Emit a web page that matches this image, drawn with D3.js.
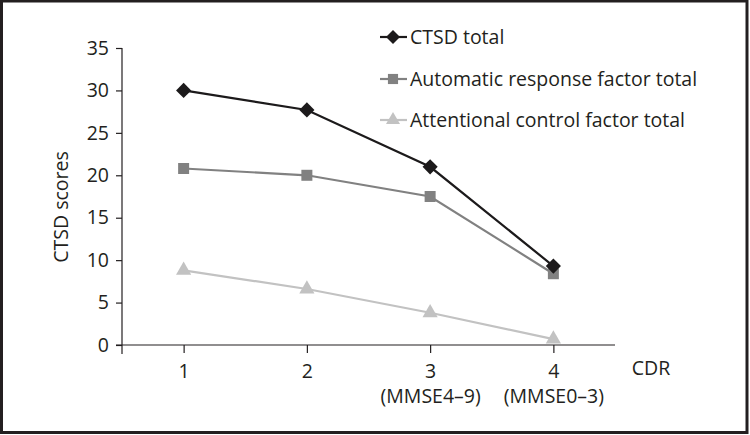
<!DOCTYPE html>
<html><head><meta charset="utf-8">
<script src="https://cdn.jsdelivr.net/npm/d3@7"></script>
<style>
html,body{margin:0;padding:0;background:#fff;}
svg text{font-family:"Open Sans","Noto Sans",sans-serif;fill:#231f20;}
</style></head>
<body>
<svg id="c" width="750" height="435"></svg>
<script>
const categories = [1, 2, 3, 4];
const tickLabels = ["1", "2", "3", "4"];
const subLabels = ["", "", "(MMSE4–9)", "(MMSE0–3)"];
const yTicks = [0, 5, 10, 15, 20, 25, 30, 35];
const seriesNames = ["CTSD total", "Automatic response factor total", "Attentional control factor total"];
const ctsdTotal = [30.0, 27.7, 21.0, 9.3];
const automaticTotal = [20.8, 20.0, 17.5, 8.4];
const attentionalTotal = [8.8, 6.6, 3.8, 0.7];

const FS = 19.5;
const svg = d3.select("#c");
// frame
svg.append("rect").attr("x",1.5).attr("y",1).attr("width",745.5).attr("height",431.5)
  .attr("fill","none").attr("stroke","#231f20").attr("stroke-width",3);

const x = d3.scaleLinear().domain([0.5, 4.5]).range([122, 615]);
const y = d3.scaleLinear().domain([0, 35]).range([345, 48]);

const diamond = {draw(ctx, size){ const r = Math.sqrt(size/2); ctx.moveTo(0,-r); ctx.lineTo(r,0); ctx.lineTo(0,r); ctx.lineTo(-r,0); ctx.closePath(); }};

const series = [
  {name: seriesNames[0], values: ctsdTotal, color: "#1c1a1b", sym: diamond, size: 115},
  {name: seriesNames[1], values: automaticTotal, color: "#818181", sym: d3.symbolSquare, size: 121},
  {name: seriesNames[2], values: attentionalTotal, color: "#c2c2c2", sym: d3.symbolTriangle, size: 100}
];

// y axis
const yAxis = d3.axisLeft(y).tickValues(yTicks).tickSize(6).tickPadding(7);
const gy = svg.append("g").attr("transform","translate(122,0)").call(yAxis);
gy.select(".domain").remove();
gy.selectAll("line").attr("stroke","#231f20").attr("stroke-width",1.2);
gy.selectAll("text").attr("font-size",FS).style("fill","#231f20");
svg.append("line").attr("x1",122).attr("x2",122).attr("y1",y(35)).attr("y2",354)
  .attr("stroke","#231f20").attr("stroke-width",1.2);

// x axis
const xAxis = d3.axisBottom(x).tickValues(categories).tickSize(8).tickPadding(11)
  .tickFormat((d,i)=>tickLabels[i]);
const gx = svg.append("g").attr("transform","translate(0,345)").call(xAxis);
gx.select(".domain").remove();
gx.selectAll("line").attr("stroke","#231f20").attr("stroke-width",1.2);
gx.selectAll("text").attr("font-size",FS).style("fill","#231f20");
// second line of tick labels as tspans within the same text
gx.selectAll(".tick text").each(function(d,i){
  const t = d3.select(this);
  if (subLabels[i]) {
    t.text(null);
    t.append("tspan").attr("x",0).text(tickLabels[i]);
    t.append("tspan").attr("x",0).attr("dy","1.28em").text(subLabels[i]);
  }
});
svg.append("line").attr("x1",116).attr("x2",615).attr("y1",345).attr("y2",345)
  .attr("stroke","#231f20").attr("stroke-width",1.2);

// CDR label
svg.append("text").attr("x",651).attr("y",375).attr("text-anchor","middle")
  .attr("font-size",FS).text("CDR");

// y title
svg.append("text").attr("transform","translate(68,207) rotate(-90)")
  .attr("text-anchor","middle").attr("font-size",FS).text("CTSD scores");

// lines
const line = d3.line().x((d,i)=>x(categories[i])).y(d=>y(d));
series.slice().reverse().forEach(s=>{
  svg.append("path").datum(s.values).attr("d",line).attr("fill","none")
    .attr("stroke",s.color).attr("stroke-width",2.2);
});
series.slice().reverse().forEach(s=>{
  svg.selectAll(null).data(s.values).enter().append("path")
    .attr("d",d3.symbol().type(s.sym).size(s.size))
    .attr("transform",(d,i)=>`translate(${x(categories[i])},${y(d)})`)
    .attr("fill",s.color);
});

// legend
const legY = [37, 79, 120];
series.forEach((s,i)=>{
  const g = svg.append("g").attr("transform",`translate(393,${legY[i]})`);
  g.append("line").attr("x1",-13).attr("x2",14).attr("stroke",s.color).attr("stroke-width",2.2);
  g.append("path").attr("d",d3.symbol().type(s.sym).size(s.size*0.85)).attr("fill",s.color);
  g.append("text").attr("x",17).attr("y",7).attr("font-size",FS).text(s.name);
});
</script>
</body></html>
